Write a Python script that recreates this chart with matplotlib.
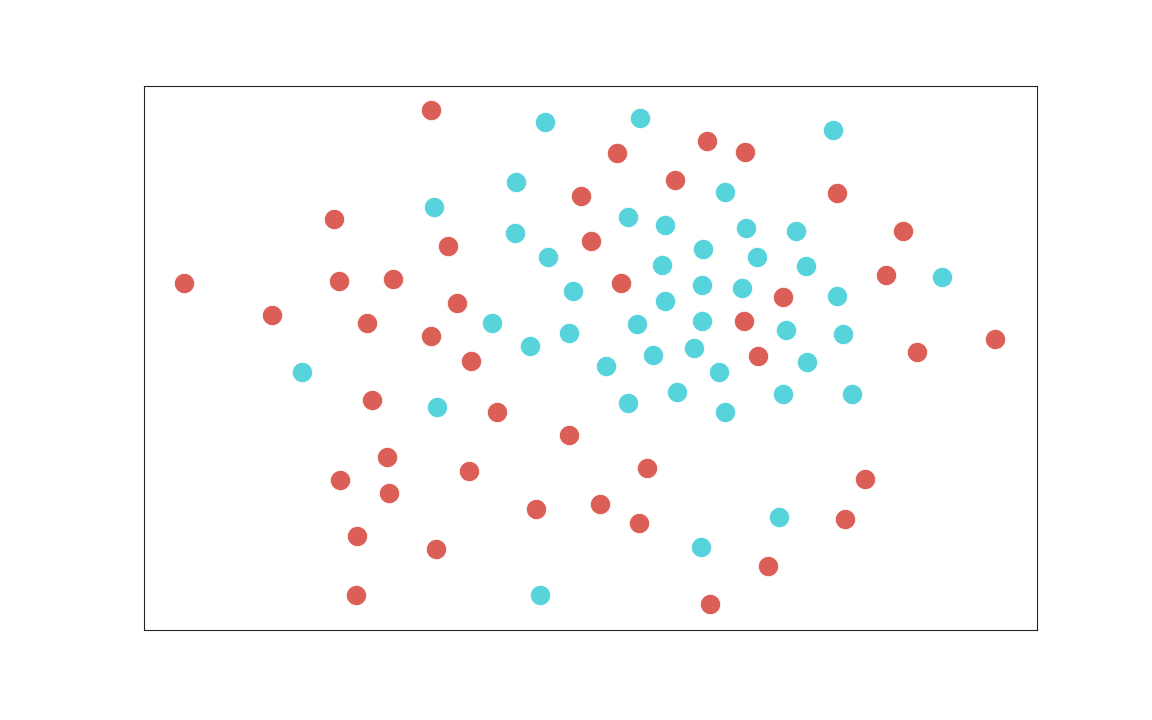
import matplotlib
matplotlib.use("Agg")
import matplotlib.pyplot as plt
import seaborn as sns

# two groups of points, x / y in arbitrary units
red_x = [431, 617, 707, 745, 675, 581, 837, 334, 448, 591, 903, 184, 339, 393, 621,
         886, 272, 457, 367, 431, 783, 744, 995, 917, 471, 758, 372, 497, 569, 387,
         647, 469, 340, 389, 865, 536, 600, 639, 845, 357, 436, 768, 356, 710]
red_y = [610, 567, 579, 568, 540, 524, 527, 501, 474, 479, 489, 437, 439, 441, 437,
         445, 405, 417, 397, 384, 423, 399, 381, 368, 359, 364, 320, 308, 285, 263,
         252, 249, 240, 227, 241, 211, 216, 197, 201, 184, 171, 154, 125, 116]

cyan_x = [545, 640, 833, 516, 725, 434, 628, 665, 746, 796, 515, 703, 548, 757, 662,
          806, 573, 702, 742, 665, 837, 942, 492, 637, 702, 786, 843, 569, 530, 694,
          653, 302, 606, 719, 807, 677, 783, 852, 437, 628, 725, 779, 701, 540]
cyan_y = [598, 602, 590, 538, 528, 513, 503, 495, 492, 489, 487, 471, 463, 463, 455,
          454, 429, 435, 432, 419, 424, 443, 397, 396, 399, 390, 386, 387, 374, 372,
          365, 348, 354, 348, 358, 328, 326, 326, 313, 317, 308, 203, 173, 125]

colors = sns.color_palette("hls", 2)

fig = plt.figure(figsize=(11.52, 7.2), dpi=100)
ax = fig.add_axes([0.125, 0.125, 0.775, 0.755])

ax.scatter(red_x, red_y, s=210, color=colors[0], edgecolor="white", linewidth=0.5)
ax.scatter(cyan_x, cyan_y, s=210, color=colors[1], edgecolor="white", linewidth=0.5)

ax.set_xlim(144, 1037)
ax.set_ylim(90, 634)
ax.set_xticks([])
ax.set_yticks([])
for sp in ax.spines.values():
    sp.set_color("0.15")
    sp.set_linewidth(0.8)

fig.savefig("out.png", dpi=100)
